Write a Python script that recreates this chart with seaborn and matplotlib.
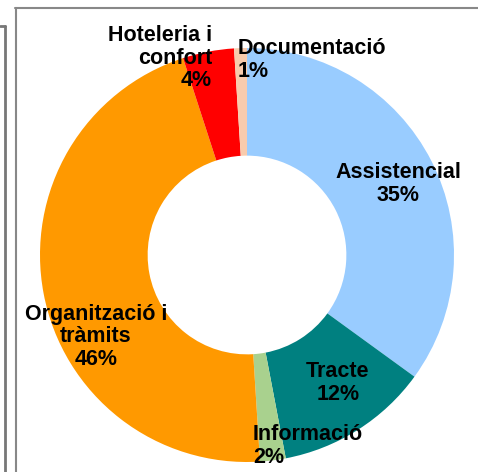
import matplotlib
matplotlib.use("Agg")
import matplotlib.pyplot as plt
import seaborn as sns
from matplotlib.lines import Line2D

categories = ["Assistencial", "Tracte", "Informació", "Organització i\ntràmits",
              "Hoteleria i\nconfort", "Documentació"]
values = [35, 12, 2, 46, 4, 1]
colors = ["#99CCFF", "#008080", "#A9D18E", "#FF9900", "#FF0000", "#F8CBAD"]

sns.set_theme(style="white")
plt.rcParams['font.family'] = ['Liberation Sans', 'DejaVu Sans']

W, H = 478, 472
fig = plt.figure(figsize=(W / 100, H / 100), dpi=100)
ax = fig.add_axes([0, 0, 1, 1])
ax.set_axis_off()

cx, cy, R = 247, 255, 207
def px(x, y):
    return (x - cx) / R, (cy - y) / R

ax.pie(values, colors=colors, startangle=90, counterclock=False, radius=1.0,
       wedgeprops=dict(width=0.52, linewidth=0))
ax.set_xlim((0 - cx) / R, (W - cx) / R)
ax.set_ylim((cy - H) / R, cy / R)
ax.set_aspect('auto')

label_pos = [((398, 184), 'center'), ((338, 383), 'center'), ((253, 446), 'left'),
             ((96, 337), 'center'), ((212, 58), 'right'), ((238, 60), 'left')]
for cat, v, ((x, y), ha) in zip(categories, values, label_pos):
    tx, ty = px(x, y)
    ax.text(tx, ty, f"{cat}\n{v}%", ha=ha, va='center', ma=ha, fontsize=15.5,
            fontweight='bold', color='black', linespacing=1.08)

def fl(xs, ys, color, lw):
    fig.add_artist(Line2D([x / W for x in xs], [1 - y / H for y in ys],
                          transform=fig.transFigure, color=color, lw=lw))

fl([15.5, 15.5], [8, H], '#888888', 1.5)
fl([15, W], [8, 8], '#888888', 1.5)
fl([4.5, 4.5], [26, H], '#777777', 2)
fl([0, 5], [26, 26], '#777777', 2)

fig.savefig("out.png", dpi=100)
